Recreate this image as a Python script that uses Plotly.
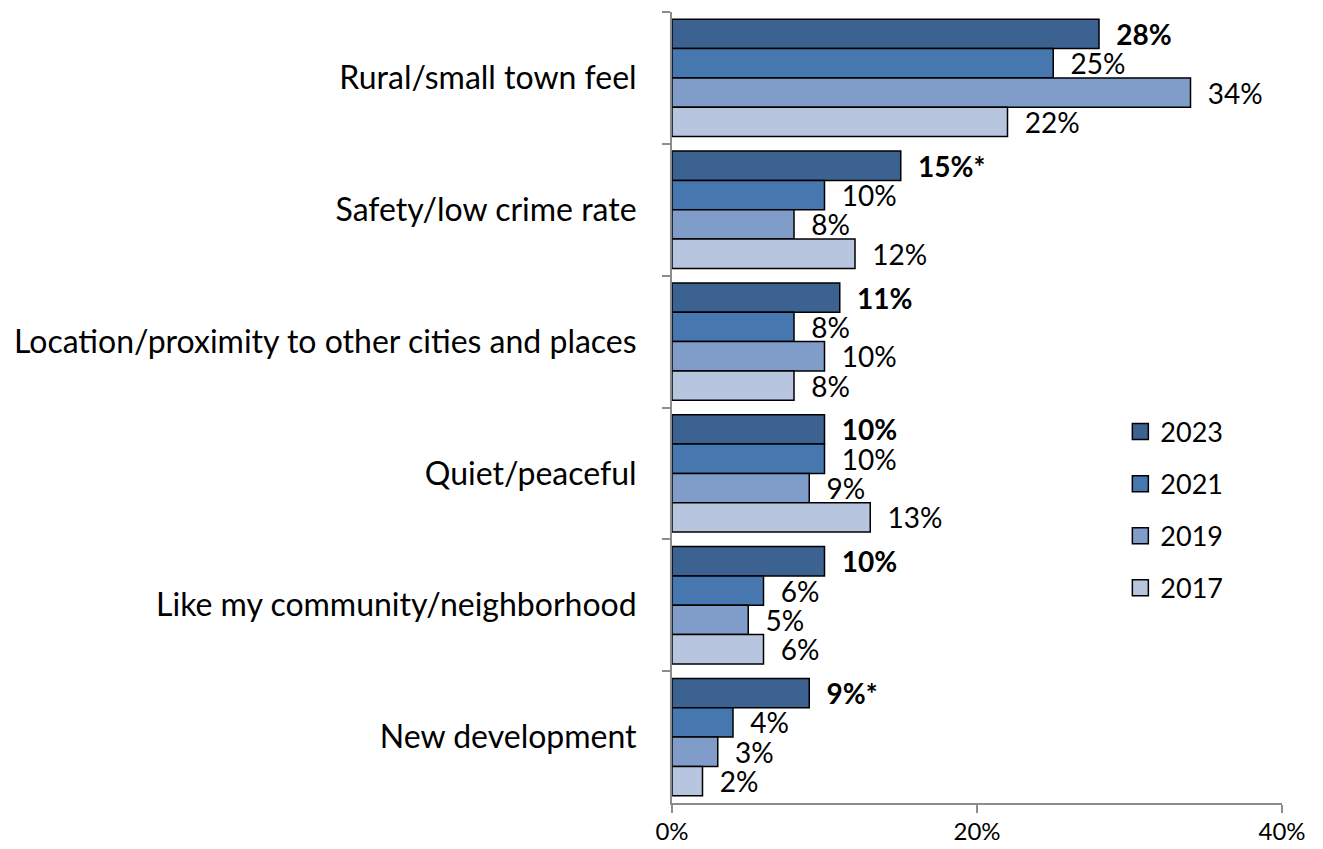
import plotly.graph_objects as go

categories = ["Rural/small town feel", "Safety/low crime rate",
              "Location/proximity to other cities and places", "Quiet/peaceful",
              "Like my community/neighborhood", "New development"]
years = ["2023", "2021", "2019", "2017"]
v2023 = [28, 15, 11, 10, 10, 9]
v2021 = [25, 10, 8, 10, 6, 4]
v2019 = [34, 8, 10, 9, 5, 3]
v2017 = [22, 12, 8, 13, 6, 2]
sig2023 = ["", "*", "", "", "", "*"]
colors = ["#3B6291", "#4677AE", "#7F9DC8", "#B8C5DF"]

FONT = "Lato"
series = [v2023, v2021, v2019, v2017]
fig = go.Figure()
for i, (yr, vals, col) in enumerate(zip(years, series, colors)):
    if i == 0:
        text = ["\u00a0\u00a0<b>%d%%%s</b>" % (v, s) for v, s in zip(vals, sig2023)]
    else:
        text = ["\u00a0\u00a0%d%%" % v for v in vals]
    fig.add_trace(go.Bar(
        y=categories, x=vals, name=yr, orientation="h",
        marker=dict(color=col, line=dict(color="black", width=1.5)),
        text=text, textposition="outside", cliponaxis=False,
        constraintext="none",
        textfont=dict(size=28, color="black", family=FONT),
        showlegend=False,
    ))
# legend entries (square swatches)
for yr, col in zip(years, colors):
    fig.add_trace(go.Scatter(
        x=[None], y=[None], mode="markers", name=yr, legendgroup=yr,
        marker=dict(symbol="square", size=16, color=col,
                    line=dict(color="black", width=1.5)),
        showlegend=True,
    ))

# page body has an 8px margin in the browser, so size the figure to fit
fig.update_layout(
    width=1315, height=841,
    margin=dict(l=664, r=41, t=4, b=46),
    barmode="group", bargap=0.11, bargroupgap=0,
    plot_bgcolor="white", paper_bgcolor="white",
    font=dict(family=FONT, size=24, color="black"),
    showlegend=True,
    legend=dict(x=0.735, y=0.50, xanchor="left", yanchor="top",
                font=dict(size=27, family=FONT), traceorder="grouped",
                tracegroupgap=14, itemwidth=30,
                bgcolor="rgba(0,0,0,0)"),
)
fig.update_xaxes(range=[0, 40], tickvals=[0, 20, 40], ticktext=["0%", "20%", "40%"],
                 showgrid=False, showline=True, linecolor="#8c8c8c", linewidth=2,
                 ticks="outside", ticklen=8, tickcolor="#8c8c8c", tickwidth=2,
                 tickfont=dict(size=24), zeroline=False, automargin=False,
                 ticklabelstandoff=-2)
fig.update_yaxes(autorange="reversed", showgrid=False, showline=True,
                 linecolor="#8c8c8c", linewidth=2, ticks="outside", ticklen=8,
                 tickcolor="#8c8c8c", tickwidth=2, tickson="boundaries",
                 tickfont=dict(size=32), ticklabelstandoff=27, automargin=False)

fig.write_html("out.html")
